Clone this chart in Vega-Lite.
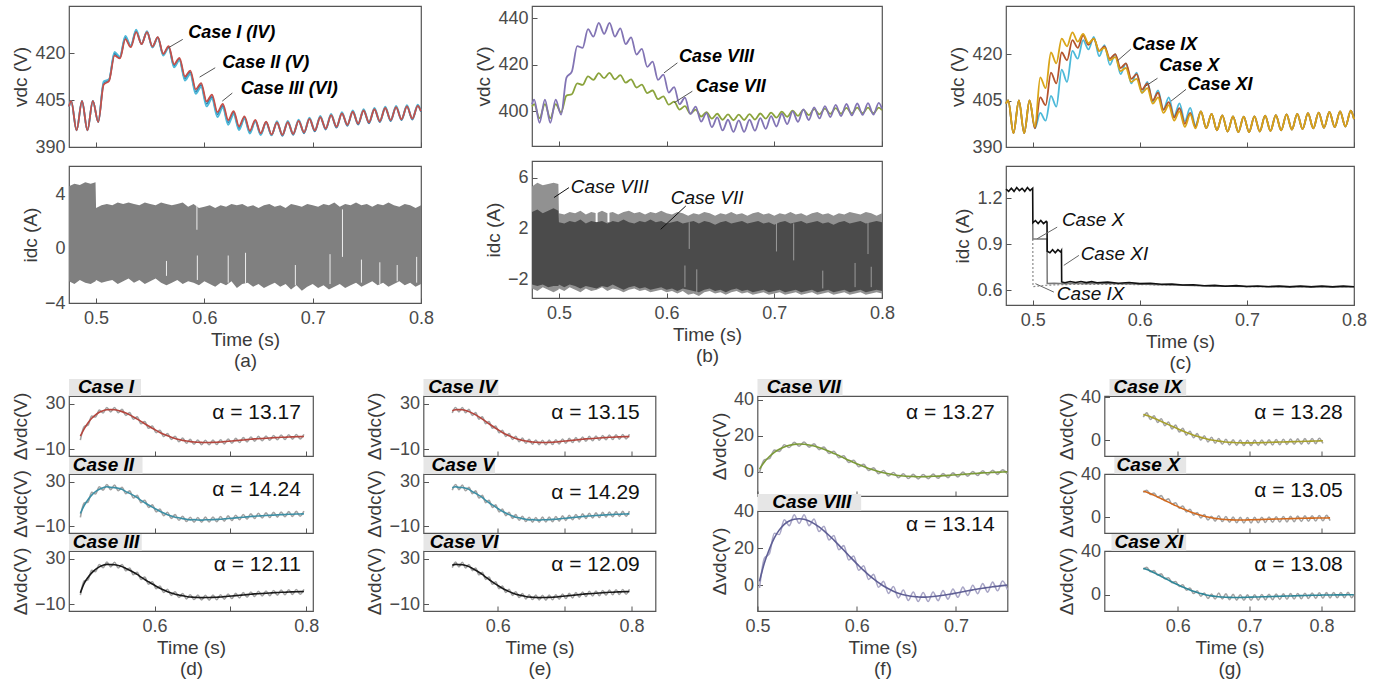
{
"$schema": "https://vega.github.io/schema/vega-lite/v6.json",
"padding": {"left": 10, "top": 5, "right": 0, "bottom": 0},
"background": "white",
"config": {
 "font": "Liberation Sans",
 "view": {"stroke": "#555555", "strokeWidth": 1.2},
 "mark": {"invalid": "filter"},
 "axis": {"domain": false, "grid": false, "ticks": true, "tickSize": -5, "tickColor": "#555555", "tickWidth": 1, "labelFont": "Liberation Sans", "labelFontSize": 18, "labelColor": "#4a4a4a", "labelFlush": false, "labelOverlap": false, "titleFont": "Liberation Sans", "titleFontSize": 19, "titleFontWeight": "normal", "titleColor": "#3a3a3a"},
 "axisY": {"titlePadding": 4, "labelPadding": 9},
 "axisX": {"titlePadding": 3, "titleLineHeight": 21, "labelPadding": 11},
 "text": {"font": "Liberation Sans"}
},
"datasets": {
"w": [
{"t":0.475,"a1":403,"a2":403,"a3":403,"b7":402,"b8":403,"c9":404,"c10":404,"c11":404},
{"t":0.477,"a1":404.8,"a2":404.8,"a3":404.8,"b7":403,"b8":405,"c9":405,"c10":405,"c11":405},
{"t":0.482,"a1":395.3,"a2":395.3,"a3":395.3,"b7":397,"b8":395,"c9":394.5,"c10":394.5,"c11":394.5},
{"t":0.487,"a1":404.8,"a2":404.8,"a3":404.8,"b7":403,"b8":405,"c9":405,"c10":405,"c11":405},
{"t":0.492,"a1":395.3,"a2":395.3,"a3":395.3,"b7":397,"b8":395,"c9":394.5,"c10":394.5,"c11":394.5},
{"t":0.497,"a1":404.8,"a2":404.8,"a3":404.8,"b7":403,"b8":405,"c9":405,"c10":405,"c11":405},
{"t":0.502,"a1":398,"a2":398,"a3":398,"b7":399.5,"b8":398.5,"c9":396,"c10":396,"c11":396.5,"d1":-2,"d2":-2,"d3":-2,"f1":1.5,"f2":1.5,"f3":0,"d7":-0.5,"d8":-1.5,"f7":1.5,"f8":2},
{"t":0.507,"a1":410,"a2":411,"a3":410.5,"b7":406.7,"b8":414.5,"c9":401,"c10":406,"c11":412.5,"d1":10,"d2":11,"d3":10.5,"f1":8,"f2":8.7,"f3":8.4,"d7":6.7,"d8":14.5,"f7":5.5,"f8":12},
{"t":0.512,"a1":411.2,"a2":411.7,"a3":411.5,"b7":407.3,"b8":417,"c9":398.5,"c10":403.5,"c11":409,"d1":11.2,"d2":11.7,"d3":11.5,"f1":13.2,"f2":13.9,"f3":13.6,"d7":7.3,"d8":17,"f7":8.5,"f8":19.5},
{"t":0.517,"a1":419.3,"a2":420.5,"a3":419.9,"b7":412,"b8":428,"c9":406.5,"c10":414,"c11":420.5,"d1":19.3,"d2":20.5,"d3":19.9,"f1":17.3,"f2":18,"f3":17.7,"d7":12,"d8":28,"f7":10.8,"f8":25.5},
{"t":0.522,"a1":418.4,"a2":419,"a3":418.7,"b7":411.3,"b8":427.3,"c9":403,"c10":410.5,"c11":417,"d1":18.4,"d2":19,"d3":18.7,"f1":20.4,"f2":21.1,"f3":20.8,"d7":11.3,"d8":27.3,"f7":12.5,"f8":29.8},
{"t":0.527,"a1":424.6,"a2":425.6,"a3":425.1,"b7":415,"b8":435.3,"c9":415,"c10":420.5,"c11":425,"d1":24.6,"d2":25.6,"d3":25.1,"f1":22.6,"f2":23.3,"f3":23,"d7":15,"d8":35.3,"f7":13.8,"f8":32.8},
{"t":0.532,"a1":422,"a2":422.5,"a3":422.3,"b7":413.5,"b8":432.1,"c9":411,"c10":418,"c11":422.5,"d1":22,"d2":22.5,"d3":22.3,"f1":24,"f2":24.7,"f3":24.4,"d7":13.5,"d8":32.1,"f7":14.7,"f8":34.6},
{"t":0.537,"a1":426.8,"a2":427.6,"a3":427.2,"b7":416.4,"b8":438,"c9":421,"c10":424.5,"c11":427,"d1":26.8,"d2":27.6,"d3":27.2,"f1":24.8,"f2":25.5,"f3":25.2,"d7":16.4,"d8":38,"f7":15.2,"f8":35.5},
{"t":0.542,"a1":423,"a2":423,"a3":423,"b7":414.2,"b8":433.3,"c9":418.5,"c10":422,"c11":424,"d1":23,"d2":23,"d3":23,"f1":25,"f2":25,"f3":25,"d7":14.2,"d8":33.3,"f7":15.4,"f8":35.8},
{"t":0.547,"a1":426.8,"a2":427.1,"a3":427,"b7":416.5,"b8":438,"c9":424.5,"c10":426,"c11":426.5,"d1":26.8,"d2":27.1,"d3":27,"f1":24.8,"f2":24.8,"f3":24.8,"d7":16.5,"d8":38,"f7":15.3,"f8":35.5},
{"t":0.552,"a1":422.2,"a2":421.9,"a3":422,"b7":413.7,"b8":432.1,"c9":421.5,"c10":423,"c11":423.5,"d1":22.2,"d2":21.9,"d3":22,"f1":24.2,"f2":24.2,"f3":24.2,"d7":13.7,"d8":32.1,"f7":14.9,"f8":34.6,"d9":21.5,"d10":23,"d11":23.5,"f9":24,"f10":24,"f11":24},
{"t":0.557,"a1":425.2,"a2":425,"a3":425.1,"b7":415.5,"b8":435.7,"c9":425.5,"c10":425,"c11":425,"d1":25.2,"d2":25,"d3":25.1,"f1":23.2,"f2":23.2,"f3":23.2,"d7":15.5,"d8":35.7,"f7":14.3,"f8":33.2,"d9":25.5,"d10":25,"d11":25,"f9":23,"f10":23.2,"f11":23},
{"t":0.562,"a1":419.9,"a2":419.3,"a3":419.6,"b7":412.3,"b8":428.9,"c9":419.3,"c10":421,"c11":421,"d1":19.9,"d2":19.3,"d3":19.6,"f1":21.9,"f2":21.2,"f3":21.6,"d7":12.3,"d8":28.9,"f7":13.5,"f8":31.4,"d9":19.3,"d10":21,"d11":21,"f9":21.8,"f10":21.8,"f11":21.6},
{"t":0.567,"a1":422.3,"a2":421.8,"a3":422,"b7":413.7,"b8":431.8,"c9":422.9,"c10":422.5,"c11":422,"d1":22.3,"d2":21.8,"d3":22,"f1":20.3,"f2":19.6,"f3":20,"d7":13.7,"d8":31.8,"f7":12.5,"f8":29.3,"d9":22.9,"d10":22.5,"d11":22,"f9":20.4,"f10":20.3,"f11":20},
{"t":0.572,"a1":416.5,"a2":415.5,"a3":416,"b7":410.2,"b8":424.4,"c9":416.5,"c10":418.5,"c11":418,"d1":16.5,"d2":15.5,"d3":16,"f1":18.5,"f2":17.8,"f3":18.2,"d7":10.2,"d8":24.4,"f7":11.4,"f8":26.9,"d9":16.5,"d10":18.5,"d11":18,"f9":19,"f10":18.8,"f11":18.4},
{"t":0.577,"a1":418.6,"a2":417.8,"a3":418.2,"b7":411.4,"b8":426.8,"c9":420,"c10":420,"c11":419,"d1":18.6,"d2":17.8,"d3":18.2,"f1":16.6,"f2":15.9,"f3":16.3,"d7":11.4,"d8":26.8,"f7":10.2,"f8":24.3,"d9":20,"d10":20,"d11":19,"f9":17.5,"f10":17.2,"f11":16.7},
{"t":0.582,"a1":412.6,"a2":411.3,"a3":411.9,"b7":407.8,"b8":419.1,"c9":413.5,"c10":415.5,"c11":414.5,"d1":12.6,"d2":11.3,"d3":11.9,"f1":14.6,"f2":13.3,"f3":13.9,"d7":7.8,"d8":19.1,"f7":9,"f8":21.6,"d9":13.5,"d10":15.5,"d11":14.5,"f9":16,"f10":15.6,"f11":15},
{"t":0.587,"a1":414.5,"a2":413.4,"a3":413.9,"b7":408.9,"b8":421.3,"c9":417,"c10":417,"c11":415.5,"d1":14.5,"d2":13.4,"d3":13.9,"f1":12.5,"f2":11.2,"f3":11.8,"d7":8.9,"d8":21.3,"f7":7.7,"f8":18.8,"d9":17,"d10":17,"d11":15.5,"f9":14.5,"f10":14,"f11":13.3},
{"t":0.592,"a1":408.5,"a2":407,"a3":407.7,"b7":405.2,"b8":413.5,"c9":410.5,"c10":412,"c11":411,"d1":8.5,"d2":7,"d3":7.7,"f1":10.5,"f2":9.2,"f3":9.8,"d7":5.2,"d8":13.5,"f7":6.4,"f8":16,"d9":10.5,"d10":12,"d11":11,"f9":13,"f10":12.4,"f11":11.6},
{"t":0.597,"a1":410.5,"a2":409.3,"a3":409.9,"b7":406.4,"b8":415.7,"c9":414,"c10":413.5,"c11":412,"d1":10.5,"d2":9.3,"d3":9.9,"f1":8.5,"f2":7.2,"f3":7.8,"d7":6.4,"d8":15.7,"f7":5.2,"f8":13.2,"d9":14,"d10":13.5,"d11":12,"f9":11.5,"f10":10.8,"f11":10},
{"t":0.602,"a1":404.6,"a2":403,"a3":403.8,"b7":402.8,"b8":408,"c9":407.5,"c10":408.5,"c11":407.5,"d1":4.6,"d2":3,"d3":3.8,"f1":6.6,"f2":5.3,"f3":5.9,"d7":2.8,"d8":8,"f7":4,"f8":10.5,"d9":7.5,"d10":8.5,"d11":7.5,"f9":10,"f10":9.3,"f11":8.5},
{"t":0.607,"a1":406.8,"a2":405.5,"a3":406.1,"b7":404.1,"b8":410.4,"c9":411,"c10":410.5,"c11":409,"d1":6.8,"d2":5.5,"d3":6.1,"f1":4.8,"f2":3.5,"f3":4.1,"d7":4.1,"d8":10.4,"f7":2.9,"f8":7.9,"d9":11,"d10":10.5,"d11":9,"f9":8.5,"f10":7.9,"f11":7},
{"t":0.612,"a1":401.2,"a2":399.6,"a3":400.4,"b7":400.7,"b8":403,"c9":404.6,"c10":405,"c11":404,"d1":1.2,"d2":-0.4,"d3":0.4,"f1":3.2,"f2":1.9,"f3":2.5,"d7":0.7,"d8":3,"f7":1.9,"f8":5.5,"d9":4.6,"d10":5,"d11":4,"f9":7.1,"f10":6.5,"f11":5.6},
{"t":0.617,"a1":403.8,"a2":402.6,"a3":403.2,"b7":402.2,"b8":405.8,"c9":408.3,"c10":407.5,"c11":406,"d1":3.8,"d2":2.6,"d3":3.2,"f1":1.8,"f2":0.5,"f3":1.1,"d7":2.2,"d8":5.8,"f7":1,"f8":3.3,"d9":8.3,"d10":7.5,"d11":6,"f9":5.8,"f10":5.2,"f11":4.3},
{"t":0.622,"a1":398.6,"a2":397.1,"a3":397.8,"b7":399,"b8":398.8,"c9":402.1,"c10":402,"c11":401,"d1":-1.4,"d2":-2.9,"d3":-2.2,"f1":0.6,"f2":-0.8,"f3":-0.1,"d7":-1,"d8":-1.2,"f7":0.2,"f8":1.3,"d9":2.1,"d10":2,"d11":1,"f9":4.6,"f10":4,"f11":3.1},
{"t":0.627,"a1":401.5,"a2":400.5,"a3":401,"b7":400.7,"b8":402,"c9":406,"c10":404.5,"c11":403.5,"d1":1.5,"d2":0.5,"d3":1,"f1":-0.5,"f2":-1.9,"f3":-1.2,"d7":0.7,"d8":2,"f7":-0.5,"f8":-0.5,"d9":6,"d10":4.5,"d11":3.5,"f9":3.5,"f10":2.9,"f11":2},
{"t":0.632,"a1":396.6,"a2":395.4,"a3":396,"b7":397.7,"b8":395.5,"c9":400,"c10":399.5,"c11":398.5,"d1":-3.4,"d2":-4.6,"d3":-4,"f1":-1.4,"f2":-2.3,"f3":-1.8,"d7":-2.3,"d8":-4.5,"f7":-1.1,"f8":-2,"d9":0,"d10":-0.5,"d11":-1.5,"f9":2.5,"f10":1.9,"f11":1},
{"t":0.637,"a1":399.8,"a2":399,"a3":399.4,"b7":399.6,"b8":399.2,"c9":404.1,"c10":402.5,"c11":401.5,"d1":-0.2,"d2":-1,"d3":-0.6,"f1":-2.2,"f2":-3.1,"f3":-2.6,"d7":-0.4,"d8":-0.8,"f7":-1.6,"f8":-3.3,"d9":4.1,"d10":2.5,"d11":1.5,"f9":1.6,"f10":1,"f11":0.2},
{"t":0.642,"a1":395.2,"a2":394.3,"a3":394.7,"b7":396.8,"b8":393.1,"c9":398.3,"c10":397.5,"c11":396.5,"d1":-4.8,"d2":-5.7,"d3":-5.3,"f1":-2.8,"f2":-3.7,"f3":-3.2,"d7":-3.2,"d8":-6.9,"f7":-2,"f8":-4.4,"d9":-1.7,"d10":-2.5,"d11":-3.5,"f9":0.8,"f10":0.2,"f11":-0.5},
{"t":0.647,"a1":398.7,"a2":398.2,"a3":398.4,"b7":398.9,"b8":397.3,"c9":402.6,"c10":401,"c11":400.5,"d1":-1.3,"d2":-1.8,"d3":-1.6,"f1":-3.3,"f2":-4.2,"f3":-3.7,"d7":-1.1,"d8":-2.7,"f7":-2.3,"f8":-5.2,"d9":2.6,"d10":1,"d11":0.5,"f9":0.1,"f10":-0.4,"f11":-1.1},
{"t":0.652,"a1":394.4,"a2":393.8,"a3":394.1,"b7":396.3,"b8":391.7,"c9":397,"c10":396.5,"c11":396,"d1":-5.6,"d2":-6.2,"d3":-5.9,"f1":-3.6,"f2":-4,"f3":-3.8,"d7":-3.7,"d8":-8.3,"f7":-2.5,"f8":-5.8,"d9":-3,"d10":-3.5,"d11":-4,"f9":-0.5,"f10":-1,"f11":-1.5},
{"t":0.657,"a1":398.1,"a2":397.9,"a3":398,"b7":398.6,"b8":396.3,"c9":401.5,"c10":401.5,"c11":401.5,"d1":-1.9,"d2":-2.1,"d3":-2,"f1":-3.9,"f2":-4.3,"f3":-4.1,"d7":-1.4,"d8":-3.7,"f7":-2.6,"f8":-6.2,"d9":1.5,"d10":1.5,"d11":1.5,"f9":-1,"f10":-1.4,"f11":-1.9},
{"t":0.662,"a1":394,"a2":393.7,"a3":393.8,"b7":396.1,"b8":391.1,"c9":396.1,"c10":396.1,"c11":396.1,"d1":-6,"d2":-6.3,"d3":-6.2,"f1":-4,"f2":-4.4,"f3":-4.2,"d7":-3.9,"d8":-8.9,"f7":-2.7,"f8":-6.4,"d9":-3.9,"d10":-3.9,"d11":-3.9,"f9":-1.4,"f10":-1.8,"f11":-2.2},
{"t":0.667,"a1":397.9,"a2":398.3,"a3":397.9,"b7":398.5,"b8":396,"c9":400.7,"c10":400.7,"c11":400.7,"d1":-2.1,"d2":-1.7,"d3":-2.1,"f1":-4.1,"f2":-4.1,"f3":-4.1,"d7":-1.5,"d8":-4,"f7":-2.7,"f8":-6.5,"d9":0.7,"d10":0.7,"d11":0.7,"f9":-1.8,"f10":-2.1,"f11":-2.4},
{"t":0.672,"a1":393.9,"a2":393.9,"a3":393.6,"b7":396.2,"b8":391.1,"c9":395.4,"c10":395.4,"c11":395.4,"d1":-6.1,"d2":-6.1,"d3":-6.4,"f1":-4.1,"f2":-4.1,"f3":-4.1,"d7":-3.8,"d8":-8.9,"f7":-2.6,"f8":-6.4,"d9":-4.6,"d10":-4.6,"d11":-4.6,"f9":-2.1,"f10":-2.3,"f11":-2.5},
{"t":0.677,"a1":398,"a2":398.4,"a3":398,"b7":398.7,"b8":396.3,"c9":400.2,"c10":400.2,"c11":400.2,"d1":-2,"d2":-1.6,"d3":-2,"f1":-4,"f2":-4,"f3":-4,"d7":-1.3,"d8":-3.7,"f7":-2.5,"f8":-6.2,"d9":0.2,"d10":0.2,"d11":0.2,"f9":-2.3,"f10":-2.4,"f11":-2.6},
{"t":0.682,"a1":394.2,"a2":394.2,"a3":393.9,"b7":396.4,"b8":391.6,"c9":395,"c10":395,"c11":395,"d1":-5.8,"d2":-5.8,"d3":-6.1,"f1":-3.8,"f2":-3.8,"f3":-3.8,"d7":-3.6,"d8":-8.4,"f7":-2.4,"f8":-5.9,"d9":-5,"d10":-5,"d11":-5,"f9":-2.5,"f10":-2.5,"f11":-2.6},
{"t":0.687,"a1":398.4,"a2":398.8,"a3":398.4,"b7":399,"b8":397,"c9":399.9,"c10":399.9,"c11":399.9,"d1":-1.6,"d2":-1.2,"d3":-1.6,"f1":-3.6,"f2":-3.6,"f3":-3.6,"d7":-1,"d8":-3,"f7":-2.2,"f8":-5.5,"d9":-0.1,"d10":-0.1,"d11":-0.1,"f9":-2.6,"f10":-2.5,"f11":-2.6},
{"t":0.692,"a1":394.7,"a2":394.7,"a3":394.4,"b7":396.8,"b8":392.4,"c9":394.8,"c10":394.8,"c11":394.8,"d1":-5.3,"d2":-5.3,"d3":-5.6,"f1":-3.3,"f2":-3.3,"f3":-3.3,"d7":-3.2,"d8":-7.6,"f7":-2,"f8":-5.1,"d9":-5.2,"d10":-5.2,"d11":-5.2,"f9":-2.7,"f10":-2.5,"f11":-2.5},
{"t":0.697,"a1":399,"a2":399.4,"a3":399,"b7":399.4,"b8":397.9,"c9":399.8,"c10":399.8,"c11":399.8,"d1":-1,"d2":-0.6,"d3":-1,"f1":-3,"f2":-3,"f3":-3,"d7":-0.6,"d8":-2.1,"f7":-1.8,"f8":-4.6,"d9":-0.2,"d10":-0.2,"d11":-0.2,"f9":-2.7,"f10":-2.4,"f11":-2.4},
{"t":0.702,"a1":395.3,"a2":395.3,"a3":395,"b7":397.2,"b8":393.4,"c9":394.8,"c10":394.8,"c11":394.8,"d1":-4.7,"d2":-4.7,"d3":-5,"f1":-2.7,"f2":-2.7,"f3":-2.7,"d7":-2.8,"d8":-6.6,"f7":-1.6,"f8":-4.1,"d9":-5.2,"d10":-5.2,"d11":-5.2,"f9":-2.7,"f10":-2.3,"f11":-2.3},
{"t":0.707,"a1":399.6,"a2":400,"a3":399.6,"b7":399.8,"b8":398.9,"c9":399.9,"c10":399.9,"c11":399.9,"d1":-0.4,"d2":0,"d3":-0.4,"f1":-2.4,"f2":-2.4,"f3":-2.4,"d7":-0.2,"d8":-1.1,"f7":-1.4,"f8":-3.6,"d9":-0.1,"d10":-0.1,"d11":-0.1,"f9":-2.6,"f10":-2.2,"f11":-2.2},
{"t":0.712,"a1":395.9,"a2":395.9,"a3":395.6,"b7":397.6,"b8":394.4,"c9":395,"c10":395,"c11":395,"d1":-4.1,"d2":-4.1,"d3":-4.4,"f1":-2.1,"f2":-2.1,"f3":-2.1,"d7":-2.4,"d8":-5.6,"f7":-1.2,"f8":-3.1,"d9":-5,"d10":-5,"d11":-5,"f9":-2.5,"f10":-2.1,"f11":-2.1},
{"t":0.717,"a1":400.2,"a2":400.6,"a3":400.2,"b7":400.2,"b8":399.9,"c9":400.1,"c10":400.1,"c11":400.1,"d1":0.2,"d2":0.6,"d3":0.2,"f1":-1.8,"f2":-1.8,"f3":-1.8,"d7":0.2,"d8":-0.1,"f7":-1,"f8":-2.6,"d9":0.1,"d10":0.1,"d11":0.1,"f9":-2.4,"f10":-2,"f11":-2},
{"t":0.722,"a1":396.5,"a2":396.5,"a3":396.2,"b7":398,"b8":395.4,"c9":395.2,"c10":395.2,"c11":395.2,"d1":-3.5,"d2":-3.5,"d3":-3.8,"f1":-1.5,"f2":-1.5,"f3":-1.5,"d7":-2,"d8":-4.6,"f7":-0.8,"f8":-2.1,"d9":-4.8,"d10":-4.8,"d11":-4.8,"f9":-2.3,"f10":-1.9,"f11":-1.9},
{"t":0.727,"a1":400.8,"a2":401.2,"a3":400.8,"b7":400.6,"b8":400.8,"c9":400.3,"c10":400.3,"c11":400.3,"d1":0.8,"d2":1.2,"d3":0.8,"f1":-1.2,"f2":-1.2,"f3":-1.2,"d7":0.6,"d8":0.8,"f7":-0.6,"f8":-1.7,"d9":0.3,"d10":0.3,"d11":0.3,"f9":-2.2,"f10":-1.8,"f11":-1.8},
{"t":0.732,"a1":397.1,"a2":397.1,"a3":396.8,"b7":398.3,"b8":396.2,"c9":395.4,"c10":395.4,"c11":395.4,"d1":-2.9,"d2":-2.9,"d3":-3.2,"f1":-0.9,"f2":-0.9,"f3":-0.9,"d7":-1.7,"d8":-3.8,"f7":-0.5,"f8":-1.3,"d9":-4.6,"d10":-4.6,"d11":-4.6,"f9":-2.1,"f10":-1.7,"f11":-1.7},
{"t":0.737,"a1":401.3,"a2":401.7,"a3":401.3,"b7":400.9,"b8":401.6,"c9":400.5,"c10":400.5,"c11":400.5,"d1":1.3,"d2":1.7,"d3":1.3,"f1":-0.7,"f2":-0.7,"f3":-0.7,"d7":0.9,"d8":1.6,"f7":-0.3,"f8":-0.9,"d9":0.5,"d10":0.5,"d11":0.5,"f9":-2,"f10":-1.6,"f11":-1.6},
{"t":0.742,"a1":397.5,"a2":397.5,"a3":397.2,"b7":398.6,"b8":396.9,"c9":395.6,"c10":395.6,"c11":395.6,"d1":-2.5,"d2":-2.5,"d3":-2.8,"f1":-0.5,"f2":-0.5,"f3":-0.5,"d7":-1.4,"d8":-3.1,"f7":-0.2,"f8":-0.6,"d9":-4.4,"d10":-4.4,"d11":-4.4,"f9":-1.9,"f10":-1.5,"f11":-1.5},
{"t":0.747,"a1":401.7,"a2":402.1,"a3":401.7,"b7":401.1,"b8":402.2,"c9":400.7,"c10":400.7,"c11":400.7,"d1":1.7,"d2":2.1,"d3":1.7,"f1":-0.3,"f2":-0.3,"f3":-0.3,"d7":1.1,"d8":2.2,"f7":-0.1,"f8":-0.3,"d9":0.7,"d10":0.7,"d11":0.7,"f9":-1.8,"f10":-1.4,"f11":-1.4},
{"t":0.752,"a1":397.9,"a2":397.9,"a3":397.6,"b7":398.8,"b8":397.5,"c9":395.8,"c10":395.8,"c11":395.8,"d1":-2.1,"d2":-2.1,"d3":-2.4,"f1":-0.1,"f2":-0.1,"f3":-0.1,"d7":-1.2,"d8":-2.5,"f7":0,"f8":0,"d9":-4.2,"d10":-4.2,"d11":-4.2,"f9":-1.7,"f10":-1.3,"f11":-1.3},
{"t":0.757,"a1":402.1,"a2":402.5,"a3":402.1,"b7":401.3,"b8":402.7,"c9":400.9,"c10":400.9,"c11":400.9,"d1":2.1,"d2":2.5,"d3":2.1,"f1":0.1,"f2":0.1,"f3":0.1,"d9":0.9,"d10":0.9,"d11":0.9,"f9":-1.6,"f10":-1.2,"f11":-1.2},
{"t":0.762,"a1":398.3,"a2":398.3,"a3":398,"b7":398.9,"b8":397.9,"c9":396,"c10":396,"c11":396,"d1":-1.7,"d2":-1.7,"d3":-2,"f1":0.3,"f2":0.3,"f3":0.3,"d9":-4,"d10":-4,"d11":-4,"f9":-1.5,"f10":-1.1,"f11":-1.1},
{"t":0.767,"a1":402.5,"a2":402.9,"a3":402.5,"b7":401.4,"b8":403.1,"c9":401.1,"c10":401.1,"c11":401.1,"d1":2.5,"d2":2.9,"d3":2.5,"f1":0.5,"f2":0.5,"f3":0.5,"d9":1.1,"d10":1.1,"d11":1.1,"f9":-1.4,"f10":-1,"f11":-1},
{"t":0.772,"a1":398.6,"a2":398.6,"a3":398.3,"b7":399,"b8":398.2,"c9":396.2,"c10":396.2,"c11":396.2,"d1":-1.4,"d2":-1.4,"d3":-1.7,"f1":0.6,"f2":0.6,"f3":0.6,"d9":-3.8,"d10":-3.8,"d11":-3.8,"f9":-1.3,"f10":-0.9,"f11":-0.9},
{"t":0.777,"a1":402.8,"a2":403.2,"a3":402.8,"b7":401.5,"b8":403.3,"c9":401.3,"c10":401.3,"c11":401.3,"d1":2.8,"d2":3.2,"d3":2.8,"f1":0.8,"f2":0.8,"f3":0.8,"d9":1.3,"d10":1.3,"d11":1.3,"f9":-1.2,"f10":-0.9,"f11":-0.8},
{"t":0.782,"a1":398.9,"a2":398.9,"a3":398.6,"b7":399.1,"b8":398.4,"c9":396.4,"c10":396.4,"c11":396.4,"d1":-1.1,"d2":-1.1,"d3":-1.4,"f1":0.9,"f2":0.9,"f3":0.9,"d9":-3.6,"d10":-3.6,"d11":-3.6,"f9":-1.1,"f10":-0.8,"f11":-0.7},
{"t":0.787,"a1":403,"a2":403.4,"a3":403,"b7":401.5,"b8":403.5,"c9":401.5,"c10":401.5,"c11":401.5,"d1":3,"d2":3.4,"d3":3,"f1":1,"f2":1,"f3":1,"d9":1.5,"d10":1.5,"d11":1.5,"f9":-1,"f10":-0.8,"f11":-0.6},
{"t":0.792,"a1":399.1,"a2":399.1,"a3":398.8,"b7":399.1,"b8":398.5,"c9":396.6,"c10":396.6,"c11":396.6,"d1":-0.9,"d2":-0.9,"d3":-1.2,"f1":1.1,"f2":1.1,"f3":1.1,"d9":-3.4,"d10":-3.4,"d11":-3.4,"f9":-0.9,"f10":-0.7,"f11":-0.5},
{"t":0.797,"a1":403.2,"a2":403.6,"a3":403.2,"b7":401.5,"b8":403.6,"c9":401.7,"c10":401.7,"c11":401.7,"d1":3.2,"d2":3.6,"d3":3.2,"f1":1.2,"f2":1.2,"f3":1.2,"d9":1.7,"d10":1.7,"d11":1.7,"f9":-0.8,"f10":-0.7,"f11":-0.5},
{"t":0.8,"a1":401.5,"a2":401.7,"a3":401.3,"b7":400.5,"b8":401,"c9":399,"c10":399,"c11":399},
{"t":0.802,"d9":-3.2,"d10":-3.2,"d11":-3.2,"f9":-0.7,"f10":-0.6,"f11":-0.4},
{"t":0.807,"d10":1.8,"d11":1.8,"f10":-0.6,"f11":-0.4},
{"t":0.812,"d10":-3,"d11":-3,"f10":-0.5,"f11":-0.3},
{"t":0.817,"d11":2,"f11":-0.3},
{"t":0.822,"d11":-2.9,"f11":-0.2},
{"t":0.827,"d11":2,"f11":-0.2},
{"t":0.832,"d11":-2.8,"f11":-0.2},
{"t":0.837,"d11":2.1,"f11":-0.1},
{"t":0.842,"d11":-2.8,"f11":-0.1},
{"t":0.845,"d11":0,"f11":-0.1}
],
"i": [
{"t":0.475,"ua":4.6,"la":-2.4,"u8":5.3,"l8":-2.7,"u7":3.3,"l7":-2.4},
{"t":0.48,"ua":4.8,"la":-2.6,"u8":5.6,"l8":-2.9,"u7":3.5,"l7":-2.5},
{"t":0.485,"ua":4.7,"la":-2.3,"u8":5.4,"l8":-2.6,"u7":3.2,"l7":-2.4},
{"t":0.49,"ua":4.9,"la":-2.5,"u8":5.5,"l8":-2.8,"u7":3.4,"l7":-2.6},
{"t":0.495,"ua":4.8,"la":-2.6,"u8":5.6,"l8":-3.0,"u7":3.6,"l7":-2.5},
{"t":0.4995,"ua":4.9,"la":-2.4,"u8":5.5,"l8":-2.8,"u7":3.4,"l7":-2.5},
{"t":0.5,"ua":3.0,"la":-2.3,"u8":3.2,"l8":-2.7,"u7":2.5,"l7":-2.4},
{"t":0.505,"ua":3.2,"la":-2.5,"u8":3.1,"l8":-2.9,"u7":2.4,"l7":-2.6},
{"t":0.51,"ua":3.3,"la":-2.4,"u8":3.3,"l8":-2.6,"u7":2.6,"l7":-2.4},
{"t":0.515,"ua":3.2,"la":-2.3,"u8":3.2,"l8":-2.8,"u7":2.5,"l7":-2.5},
{"t":0.52,"ua":3.4,"la":-2.6,"u8":3.4,"l8":-3.0,"u7":2.7,"l7":-2.7},
{"t":0.525,"ua":3.3,"la":-2.4,"u8":3.1,"l8":-2.7,"u7":2.4,"l7":-2.5},
{"t":0.53,"ua":3.4,"la":-2.2,"u8":3.3,"l8":-2.9,"u7":2.6,"l7":-2.6},
{"t":0.535,"ua":3.3,"la":-2.5,"u8":3.2,"l8":-2.8,"u7":2.5,"l7":-2.7},
{"t":0.54,"ua":3.2,"la":-2.3,"u8":3.4,"l8":-2.6,"u7":2.6,"l7":-2.5},
{"t":0.545,"ua":3.4,"la":-2.6,"u8":3.2,"l8":-2.9,"u7":2.4,"l7":-2.6},
{"t":0.55,"ua":3.3,"la":-2.4,"u8":3.3,"l8":-2.7,"u7":2.6,"l7":-2.4},
{"t":0.555,"ua":3.2,"la":-2.2,"u8":3.1,"l8":-2.8,"u7":2.5,"l7":-2.6},
{"t":0.56,"ua":3.4,"la":-2.5,"u8":3.3,"l8":-3.0,"u7":2.7,"l7":-2.8},
{"t":0.565,"ua":3.3,"la":-2.7,"u8":3.4,"l8":-2.8,"u7":2.5,"l7":-2.6},
{"t":0.57,"ua":3.2,"la":-2.5,"u8":3.2,"l8":-2.7,"u7":2.4,"l7":-2.5},
{"t":0.575,"ua":3.3,"la":-2.3,"u8":3.3,"l8":-2.9,"u7":2.6,"l7":-2.7},
{"t":0.58,"ua":3.4,"la":-2.6,"u8":3.1,"l8":-2.8,"u7":2.5,"l7":-2.6},
{"t":0.585,"ua":3.1,"la":-2.4,"u8":3.3,"l8":-3.0,"u7":2.7,"l7":-2.8},
{"t":0.59,"ua":3.3,"la":-2.5,"u8":3.2,"l8":-2.9,"u7":2.5,"l7":-2.7},
{"t":0.595,"ua":3.0,"la":-2.7,"u8":3.4,"l8":-2.8,"u7":2.6,"l7":-2.6},
{"t":0.6,"ua":3.1,"la":-2.4,"u8":3.2,"l8":-3.0,"u7":2.4,"l7":-2.8},
{"t":0.605,"ua":3.2,"la":-2.6,"u8":3.1,"l8":-2.9,"u7":2.5,"l7":-2.7},
{"t":0.61,"ua":3.0,"la":-2.8,"u8":3.3,"l8":-3.1,"u7":2.6,"l7":-2.9},
{"t":0.615,"ua":3.2,"la":-2.5,"u8":3.2,"l8":-2.9,"u7":2.4,"l7":-2.7},
{"t":0.62,"ua":3.1,"la":-2.7,"u8":3.0,"l8":-3.2,"u7":2.5,"l7":-2.8},
{"t":0.625,"ua":3.3,"la":-2.4,"u8":3.2,"l8":-3.1,"u7":2.6,"l7":-2.9},
{"t":0.63,"ua":3.2,"la":-2.9,"u8":3.1,"l8":-3.3,"u7":2.4,"l7":-3.0},
{"t":0.635,"ua":3.3,"la":-2.6,"u8":3.3,"l8":-3.0,"u7":2.6,"l7":-2.8},
{"t":0.64,"ua":3.1,"la":-2.5,"u8":3.2,"l8":-2.9,"u7":2.5,"l7":-2.7},
{"t":0.645,"ua":3.2,"la":-2.8,"u8":3.0,"l8":-3.1,"u7":2.3,"l7":-2.9},
{"t":0.65,"ua":3.0,"la":-2.6,"u8":3.2,"l8":-3.0,"u7":2.5,"l7":-2.8},
{"t":0.655,"ua":3.2,"la":-2.9,"u8":3.1,"l8":-3.2,"u7":2.6,"l7":-3.0},
{"t":0.66,"ua":3.3,"la":-2.7,"u8":3.3,"l8":-3.0,"u7":2.4,"l7":-2.8},
{"t":0.665,"ua":3.1,"la":-2.5,"u8":3.1,"l8":-2.9,"u7":2.5,"l7":-2.7},
{"t":0.67,"ua":3.2,"la":-2.8,"u8":3.2,"l8":-3.1,"u7":2.6,"l7":-2.9},
{"t":0.675,"ua":3.0,"la":-2.6,"u8":3.0,"l8":-3.0,"u7":2.4,"l7":-2.8},
{"t":0.68,"ua":3.3,"la":-3.0,"u8":3.2,"l8":-3.2,"u7":2.5,"l7":-3.0},
{"t":0.685,"ua":3.2,"la":-2.7,"u8":3.3,"l8":-3.1,"u7":2.6,"l7":-2.9},
{"t":0.69,"ua":3.1,"la":-3.1,"u8":3.1,"l8":-3.0,"u7":2.4,"l7":-2.8},
{"t":0.695,"ua":3.3,"la":-2.8,"u8":3.2,"l8":-3.2,"u7":2.5,"l7":-3.0},
{"t":0.7,"ua":3.2,"la":-2.6,"u8":3.0,"l8":-3.1,"u7":2.3,"l7":-2.9},
{"t":0.705,"ua":3.1,"la":-2.9,"u8":3.2,"l8":-3.0,"u7":2.5,"l7":-2.8},
{"t":0.71,"ua":3.3,"la":-2.7,"u8":3.1,"l8":-3.2,"u7":2.6,"l7":-3.0},
{"t":0.715,"ua":3.2,"la":-3.0,"u8":3.3,"l8":-3.1,"u7":2.4,"l7":-2.9},
{"t":0.72,"ua":3.4,"la":-2.8,"u8":3.1,"l8":-3.0,"u7":2.5,"l7":-2.8},
{"t":0.725,"ua":3.1,"la":-2.6,"u8":3.2,"l8":-3.2,"u7":2.6,"l7":-3.0},
{"t":0.73,"ua":3.3,"la":-2.9,"u8":3.0,"l8":-3.1,"u7":2.4,"l7":-2.9},
{"t":0.735,"ua":3.2,"la":-2.7,"u8":3.2,"l8":-3.0,"u7":2.5,"l7":-2.8},
{"t":0.74,"ua":3.4,"la":-2.5,"u8":3.3,"l8":-3.2,"u7":2.6,"l7":-3.0},
{"t":0.745,"ua":3.2,"la":-2.8,"u8":3.1,"l8":-3.1,"u7":2.4,"l7":-2.9},
{"t":0.75,"ua":3.3,"la":-2.6,"u8":3.2,"l8":-3.0,"u7":2.5,"l7":-2.8},
{"t":0.755,"ua":3.1,"la":-2.4,"u8":3.0,"l8":-3.2,"u7":2.3,"l7":-3.0},
{"t":0.76,"ua":3.3,"la":-2.7,"u8":3.2,"l8":-3.1,"u7":2.5,"l7":-2.9},
{"t":0.765,"ua":3.2,"la":-2.5,"u8":3.1,"l8":-3.0,"u7":2.6,"l7":-2.8},
{"t":0.77,"ua":3.4,"la":-2.8,"u8":3.3,"l8":-3.2,"u7":2.4,"l7":-3.0},
{"t":0.775,"ua":3.2,"la":-2.6,"u8":3.2,"l8":-3.1,"u7":2.5,"l7":-2.9},
{"t":0.78,"ua":3.1,"la":-2.4,"u8":3.1,"l8":-3.0,"u7":2.6,"l7":-2.8},
{"t":0.785,"ua":3.3,"la":-2.7,"u8":3.3,"l8":-3.2,"u7":2.4,"l7":-3.0},
{"t":0.79,"ua":3.2,"la":-2.5,"u8":3.2,"l8":-3.1,"u7":2.5,"l7":-2.9},
{"t":0.795,"ua":3.0,"la":-2.8,"u8":3.0,"l8":-3.0,"u7":2.6,"l7":-2.8},
{"t":0.8,"ua":3.2,"la":-2.6,"u8":3.2,"l8":-3.1,"u7":2.5,"l7":-2.9}
],
"sp": [
{"p":"a","t":0.565,"lo":-2.0,"hi":-0.9},{"p":"a","t":0.5931,"lo":1.4,"hi":3.2},{"p":"a","t":0.5935,"lo":-2.3,"hi":-0.5},{"p":"a","t":0.622,"lo":-2.5,"hi":-0.5},{"p":"a","t":0.638,"lo":-2.6,"hi":-0.3},{"p":"a","t":0.684,"lo":-2.7,"hi":-1.2},{"p":"a","t":0.716,"lo":-2.6,"hi":-0.4},{"p":"a","t":0.7275,"lo":-0.6,"hi":2.9},{"p":"a","t":0.745,"lo":-2.5,"hi":-0.8},{"p":"a","t":0.762,"lo":-2.6,"hi":-1},{"p":"a","t":0.778,"lo":-2.4,"hi":-1.2},{"p":"a","t":0.796,"lo":-2.5,"hi":-0.6},
{"p":"bw","t":0.535,"lo":2.5,"hi":3.5},{"p":"bw","t":0.546,"lo":2.5,"hi":3.5},
{"p":"bg","t":0.617,"lo":-2.6,"hi":-0.9},{"p":"bg","t":0.621,"lo":0.4,"hi":2.5},{"p":"bg","t":0.628,"lo":-3.1,"hi":-1.2},{"p":"bg","t":0.702,"lo":0.2,"hi":2.5},{"p":"bg","t":0.718,"lo":-0.5,"hi":2.4},{"p":"bg","t":0.745,"lo":-2.7,"hi":-1.3},{"p":"bg","t":0.775,"lo":-2.6,"hi":-0.7},{"p":"bg","t":0.787,"lo":0,"hi":2.5},{"p":"bg","t":0.79,"lo":-2.6,"hi":-1}
],
"ic": [
{"s":"XI","t":0.475,"v":1.26},{"s":"XI","t":0.4775,"v":1.245},{"s":"XI","t":0.48,"v":1.265},{"s":"XI","t":0.4825,"v":1.245},{"s":"XI","t":0.485,"v":1.27},{"s":"XI","t":0.4875,"v":1.25},{"s":"XI","t":0.49,"v":1.265},{"s":"XI","t":0.4925,"v":1.245},{"s":"XI","t":0.495,"v":1.27},{"s":"XI","t":0.4975,"v":1.25},{"s":"XI","t":0.4999,"v":1.265},
{"s":"XI","t":0.5001,"v":1.04},{"s":"XI","t":0.5025,"v":1.055},{"s":"XI","t":0.505,"v":1.035},{"s":"XI","t":0.5075,"v":1.055},{"s":"XI","t":0.51,"v":1.035},{"s":"XI","t":0.5125,"v":1.05},{"s":"XI","t":0.5133,"v":1.045},
{"s":"XI","t":0.5135,"v":0.855},{"s":"XI","t":0.516,"v":0.845},{"s":"XI","t":0.5185,"v":0.865},{"s":"XI","t":0.521,"v":0.845},{"s":"XI","t":0.5235,"v":0.865},{"s":"XI","t":0.526,"v":0.85},{"s":"XI","t":0.5268,"v":0.86},
{"s":"XI","t":0.527,"v":0.655},{"s":"XI","t":0.53,"v":0.65},{"s":"XI","t":0.535,"v":0.658},{"s":"XI","t":0.54,"v":0.652},{"s":"XI","t":0.545,"v":0.658},{"s":"XI","t":0.55,"v":0.651},{"s":"XI","t":0.555,"v":0.657},{"s":"XI","t":0.56,"v":0.65},{"s":"XI","t":0.57,"v":0.654},{"s":"XI","t":0.58,"v":0.647},{"s":"XI","t":0.59,"v":0.651},{"s":"XI","t":0.6,"v":0.644},{"s":"XI","t":0.61,"v":0.647},{"s":"XI","t":0.62,"v":0.64},{"s":"XI","t":0.63,"v":0.642},{"s":"XI","t":0.64,"v":0.635},{"s":"XI","t":0.65,"v":0.637},{"s":"XI","t":0.66,"v":0.63},{"s":"XI","t":0.67,"v":0.633},{"s":"XI","t":0.68,"v":0.627},{"s":"XI","t":0.69,"v":0.631},{"s":"XI","t":0.7,"v":0.625},{"s":"XI","t":0.71,"v":0.629},{"s":"XI","t":0.72,"v":0.624},{"s":"XI","t":0.73,"v":0.628},{"s":"XI","t":0.74,"v":0.623},{"s":"XI","t":0.75,"v":0.628},{"s":"XI","t":0.76,"v":0.623},{"s":"XI","t":0.77,"v":0.628},{"s":"XI","t":0.78,"v":0.623},{"s":"XI","t":0.79,"v":0.628},{"s":"XI","t":0.8,"v":0.624},
{"s":"X","t":0.5,"v":1.04},{"s":"X","t":0.5001,"v":0.935},{"s":"X","t":0.505,"v":0.935},{"s":"X","t":0.5133,"v":0.935},{"s":"X","t":0.5135,"v":0.645},{"s":"X","t":0.52,"v":0.647},{"s":"X","t":0.53,"v":0.644},{"s":"X","t":0.54,"v":0.647},{"s":"X","t":0.55,"v":0.644},{"s":"X","t":0.56,"v":0.646},{"s":"X","t":0.58,"v":0.643},{"s":"X","t":0.6,"v":0.641},{"s":"X","t":0.62,"v":0.637},{"s":"X","t":0.65,"v":0.632},{"s":"X","t":0.7,"v":0.625},{"s":"X","t":0.8,"v":0.624},
{"s":"IX","t":0.5,"v":0.935},{"s":"IX","t":0.5002,"v":0.625},{"s":"IX","t":0.505,"v":0.628},{"s":"IX","t":0.51,"v":0.632},{"s":"IX","t":0.52,"v":0.636},{"s":"IX","t":0.53,"v":0.638},{"s":"IX","t":0.55,"v":0.64},{"s":"IX","t":0.6,"v":0.638},{"s":"IX","t":0.65,"v":0.632},{"s":"IX","t":0.7,"v":0.625},{"s":"IX","t":0.8,"v":0.624}
]
},
"vconcat": [
{"hconcat": [
 {"vconcat": [
  {"width":352,"height":141,"layer":[
   {"data":{"name":"w"},"mark":{"type":"line","color":"#2e7fae","strokeWidth":1.8,"interpolate":"monotone"},"encoding":{"x":{"field":"t","type":"quantitative","scale":{"domain":[0.475,0.8],"nice":false},"axis":{"values":[0.5,0.6,0.7,0.8],"labels":false,"title":null}},"y":{"field":"a3","type":"quantitative","scale":{"domain":[390,435.2],"nice":false,"zero":false},"axis":{"values":[390,405,420],"title":"vdc (V)"}}}},
   {"data":{"name":"w"},"mark":{"type":"line","color":"#4db8d8","strokeWidth":1.8,"interpolate":"monotone"},"encoding":{"x":{"field":"t","type":"quantitative"},"y":{"field":"a2","type":"quantitative"}}},
   {"data":{"name":"w"},"mark":{"type":"line","color":"#c4504a","strokeWidth":1.8,"interpolate":"monotone"},"encoding":{"x":{"field":"t","type":"quantitative"},"y":{"field":"a1","type":"quantitative"}}},
   {"data":{"values":[{"t1":0.58,"v1":424.5,"t2":0.5667,"v2":421.8},{"t1":0.61,"v1":415.4,"t2":0.5956,"v2":412.4},{"t1":0.6258,"v1":407.3,"t2":0.6165,"v2":404.7}]},"mark":{"type":"rule","color":"#555555","strokeWidth":1},"encoding":{"x":{"field":"t1","type":"quantitative"},"x2":{"field":"t2"},"y":{"field":"v1","type":"quantitative"},"y2":{"field":"v2"}}},
   {"data":{"values":[{"t":0.585,"v":426.4,"s":"Case I (IV)"},{"t":0.6165,"v":417,"s":"Case II (V)"},{"t":0.6336,"v":408.7,"s":"Case III (VI)"}]},"mark":{"type":"text","align":"left","baseline":"middle","fontSize":18,"fontWeight":"bold","fontStyle":"italic","color":"#000000"},"encoding":{"x":{"field":"t","type":"quantitative"},"y":{"field":"v","type":"quantitative"},"text":{"field":"s"}}}
  ]},
  {"width":352,"height":137,"layer":[
   {"data":{"name":"i"},"mark":{"type":"area","color":"#808080"},"encoding":{"x":{"field":"t","type":"quantitative","scale":{"domain":[0.475,0.8],"nice":false},"axis":{"values":[0.5,0.6,0.7,0.8],"format":".1f","title":["Time (s)","(a)"]}},"y":{"field":"ua","type":"quantitative","scale":{"domain":[-4,6.1],"nice":false,"zero":false},"axis":{"values":[-4,0,4],"title":"idc (A)"}},"y2":{"field":"la"}}},
   {"data":{"name":"sp"},"transform":[{"filter":{"field":"p","equal":"a"}}],"mark":{"type":"rule","color":"#ededed","strokeWidth":1},"encoding":{"x":{"field":"t","type":"quantitative"},"y":{"field":"lo","type":"quantitative"},"y2":{"field":"hi"}}}
  ]}
 ], "spacing": 19, "bounds": "flush"},
 {"hconcat": [
  {"vconcat": [
   {"width":350,"height":140,"layer":[
    {"data":{"name":"w"},"mark":{"type":"line","color":"#8aa33c","strokeWidth":1.8,"interpolate":"monotone"},"encoding":{"x":{"field":"t","type":"quantitative","scale":{"domain":[0.475,0.8],"nice":false},"axis":{"values":[0.5,0.6,0.7,0.8],"labels":false,"title":null}},"y":{"field":"b7","type":"quantitative","scale":{"domain":[385,445.3],"nice":false,"zero":false},"axis":{"values":[400,420,440],"title":"vdc (V)"}}}},
    {"data":{"name":"w"},"mark":{"type":"line","color":"#8274b4","strokeWidth":1.8,"interpolate":"monotone"},"encoding":{"x":{"field":"t","type":"quantitative"},"y":{"field":"b8","type":"quantitative"}}},
    {"data":{"values":[{"t1":0.61,"v1":420.8,"t2":0.5976,"v2":416.5},{"t1":0.6239,"v1":408.6,"t2":0.6069,"v2":403.6}]},"mark":{"type":"rule","color":"#555555","strokeWidth":1},"encoding":{"x":{"field":"t1","type":"quantitative"},"x2":{"field":"t2"},"y":{"field":"v1","type":"quantitative"},"y2":{"field":"v2"}}},
    {"data":{"values":[{"t":0.6115,"v":423.4,"s":"Case VIII"},{"t":0.627,"v":410.4,"s":"Case VII"}]},"mark":{"type":"text","align":"left","baseline":"middle","fontSize":18,"fontWeight":"bold","fontStyle":"italic","color":"#000000"},"encoding":{"x":{"field":"t","type":"quantitative"},"y":{"field":"v","type":"quantitative"},"text":{"field":"s"}}}
   ]},
   {"width":350,"height":137,"layer":[
    {"data":{"name":"i"},"mark":{"type":"area","color":"#919191"},"encoding":{"x":{"field":"t","type":"quantitative","scale":{"domain":[0.475,0.8],"nice":false},"axis":{"values":[0.5,0.6,0.7,0.8],"format":".1f","title":["Time (s)","(b)"]}},"y":{"field":"u8","type":"quantitative","scale":{"domain":[-3.45,7.3],"nice":false,"zero":false},"axis":{"values":[-2,0,2,4,6],"labelExpr":"datum.value == 0 || datum.value == 4 ? '' : datum.label","title":"idc (A)"}},"y2":{"field":"l8"}}},
    {"data":{"name":"sp"},"transform":[{"filter":{"field":"p","equal":"bw"}}],"mark":{"type":"rule","color":"#ffffff","strokeWidth":2},"encoding":{"x":{"field":"t","type":"quantitative"},"y":{"field":"lo","type":"quantitative"},"y2":{"field":"hi"}}},
    {"data":{"name":"i"},"mark":{"type":"area","color":"#4b4b4b"},"encoding":{"x":{"field":"t","type":"quantitative"},"y":{"field":"u7","type":"quantitative"},"y2":{"field":"l7"}}},
    {"data":{"name":"sp"},"transform":[{"filter":{"field":"p","equal":"bg"}}],"mark":{"type":"rule","color":"#9a9a9a","strokeWidth":1},"encoding":{"x":{"field":"t","type":"quantitative"},"y":{"field":"lo","type":"quantitative"},"y2":{"field":"hi"}}},
    {"data":{"values":[{"t1":0.5093,"v1":5.21,"t2":0.4954,"v2":4.43},{"t1":0.6178,"v1":3.77,"t2":0.5945,"v2":1.94}]},"mark":{"type":"rule","color":"#111111","strokeWidth":1},"encoding":{"x":{"field":"t1","type":"quantitative"},"x2":{"field":"t2"},"y":{"field":"v1","type":"quantitative"},"y2":{"field":"v2"}}},
    {"data":{"values":[{"t":0.5109,"v":5.28,"s":"Case VIII"},{"t":0.6038,"v":4.36,"s":"Case VII"}]},"mark":{"type":"text","align":"left","baseline":"middle","fontSize":19,"fontStyle":"italic","color":"#111111"},"encoding":{"x":{"field":"t","type":"quantitative"},"y":{"field":"v","type":"quantitative"},"text":{"field":"s"}}}
   ]}
  ], "spacing": 15, "bounds": "flush"},
  {"vconcat": [
   {"width":348,"height":141,"layer":[
    {"data":{"name":"w"},"mark":{"type":"line","color":"#4cb9d9","strokeWidth":1.8,"interpolate":"monotone"},"encoding":{"x":{"field":"t","type":"quantitative","scale":{"domain":[0.475,0.8],"nice":false},"axis":{"values":[0.5,0.6,0.7,0.8],"labels":false,"title":null}},"y":{"field":"c9","type":"quantitative","scale":{"domain":[390,435.5],"nice":false,"zero":false},"axis":{"values":[390,405,420],"title":"vdc (V)"}}}},
    {"data":{"name":"w"},"mark":{"type":"line","color":"#b4542c","strokeWidth":1.8,"interpolate":"monotone"},"encoding":{"x":{"field":"t","type":"quantitative"},"y":{"field":"c10","type":"quantitative"}}},
    {"data":{"name":"w"},"mark":{"type":"line","color":"#d9a418","strokeWidth":1.8,"interpolate":"monotone"},"encoding":{"x":{"field":"t","type":"quantitative"},"y":{"field":"c11","type":"quantitative"}}},
    {"data":{"values":[{"t1":0.5916,"v1":421.6,"t2":0.579,"v2":417.8},{"t1":0.6165,"v1":412.2,"t2":0.6056,"v2":409.7},{"t1":0.6431,"v1":408.6,"t2":0.6291,"v2":404.8}]},"mark":{"type":"rule","color":"#555555","strokeWidth":1},"encoding":{"x":{"field":"t1","type":"quantitative"},"x2":{"field":"t2"},"y":{"field":"v1","type":"quantitative"},"y2":{"field":"v2"}}},
    {"data":{"values":[{"t":0.5928,"v":423,"s":"Case IX"},{"t":0.6181,"v":416.2,"s":"Case X"},{"t":0.6444,"v":409.9,"s":"Case XI"}]},"mark":{"type":"text","align":"left","baseline":"middle","fontSize":18,"fontWeight":"bold","fontStyle":"italic","color":"#000000"},"encoding":{"x":{"field":"t","type":"quantitative"},"y":{"field":"v","type":"quantitative"},"text":{"field":"s"}}}
   ]},
   {"width":348,"height":139,"layer":[
    {"data":{"name":"ic"},"transform":[{"filter":{"field":"s","equal":"IX"}}],"mark":{"type":"line","color":"#8a8a8a","strokeWidth":1.2,"strokeDash":[2,2]},"encoding":{"x":{"field":"t","type":"quantitative","scale":{"domain":[0.475,0.8],"nice":false},"axis":{"values":[0.5,0.6,0.7,0.8],"format":".1f","title":["Time (s)","(c)"]}},"y":{"field":"v","type":"quantitative","scale":{"domain":[0.505,1.41],"nice":false,"zero":false},"axis":{"values":[0.6,0.9,1.2],"format":".1f","title":"idc (A)"}}}},
    {"data":{"name":"ic"},"transform":[{"filter":{"field":"s","equal":"X"}}],"mark":{"type":"line","color":"#7a7a7a","strokeWidth":1.5},"encoding":{"x":{"field":"t","type":"quantitative"},"y":{"field":"v","type":"quantitative"}}},
    {"data":{"name":"ic"},"transform":[{"filter":{"field":"s","equal":"XI"}}],"mark":{"type":"line","color":"#111111","strokeWidth":1.6},"encoding":{"x":{"field":"t","type":"quantitative"},"y":{"field":"v","type":"quantitative"}}},
    {"data":{"values":[{"t1":0.5228,"v1":1.012,"t2":0.504,"v2":0.936},{"t1":0.5431,"v1":0.828,"t2":0.529,"v2":0.763},{"t1":0.5197,"v1":0.589,"t2":0.5025,"v2":0.644}]},"mark":{"type":"rule","color":"#666666","strokeWidth":1},"encoding":{"x":{"field":"t1","type":"quantitative"},"x2":{"field":"t2"},"y":{"field":"v1","type":"quantitative"},"y2":{"field":"v2"}}},
    {"data":{"values":[{"t":0.5272,"v":1.058,"s":"Case X"},{"t":0.5447,"v":0.839,"s":"Case XI"},{"t":0.5225,"v":0.574,"s":"Case IX"}]},"mark":{"type":"text","align":"left","baseline":"middle","fontSize":19,"fontStyle":"italic","color":"#111111"},"encoding":{"x":{"field":"t","type":"quantitative"},"y":{"field":"v","type":"quantitative"},"text":{"field":"s"}}}
   ]}
  ], "spacing": 19, "bounds": "flush"}
 ], "spacing": 52}
], "spacing": 39},
{"hconcat": [
 {"vconcat": [
  {"width":244,"height":60,"layer":[
   {"data":{"name":"w"},"mark":{"type":"line","color":"#a3a3a3","strokeWidth":1.6,"interpolate":"monotone"},"encoding":{"x":{"field":"t","type":"quantitative","scale":{"domain":[0.487,0.809],"nice":false},"axis":{"values":[0.6,0.7,0.8],"labels":false,"title":null}},"y":{"field":"d1","type":"quantitative","scale":{"domain":[-16,37],"nice":false,"zero":false},"axis":{"values":[-10,10,30],"title":"Δvdc(V)"}}}},
   {"data":{"name":"w"},"mark":{"type":"line","color":"#b4463e","strokeWidth":1.6,"interpolate":"monotone"},"encoding":{"x":{"field":"t","type":"quantitative"},"y":{"field":"f1","type":"quantitative"}}},
   {"data":{"values":[{"x0":0.487,"x1":0.582,"y0":37,"y1":52}]},"mark":{"type":"rect","color":"#e6e6e6"},"encoding":{"x":{"field":"x0","type":"quantitative"},"x2":{"field":"x1"},"y":{"field":"y0","type":"quantitative"},"y2":{"field":"y1"}}},
   {"data":{"values":[{"t":0.499,"v":39.7,"s":"Case I"}]},"mark":{"type":"text","align":"left","baseline":"alphabetic","fontSize":19,"fontWeight":"bold","fontStyle":"italic","color":"#000000"},"encoding":{"x":{"field":"t","type":"quantitative"},"y":{"field":"v","type":"quantitative"},"text":{"field":"s"}}},
   {"data":{"values":[{"t":0.793,"v":22.3,"s":"α = 13.17"}]},"mark":{"type":"text","align":"right","baseline":"middle","fontSize":21,"color":"#111111"},"encoding":{"x":{"field":"t","type":"quantitative"},"y":{"field":"v","type":"quantitative"},"text":{"field":"s"}}}
  ]},
  {"width":244,"height":59,"layer":[
   {"data":{"name":"w"},"mark":{"type":"line","color":"#a3a3a3","strokeWidth":1.6,"interpolate":"monotone"},"encoding":{"x":{"field":"t","type":"quantitative","scale":{"domain":[0.487,0.809],"nice":false},"axis":{"values":[0.6,0.7,0.8],"labels":false,"title":null}},"y":{"field":"d2","type":"quantitative","scale":{"domain":[-16,37],"nice":false,"zero":false},"axis":{"values":[-10,10,30],"title":"Δvdc(V)"}}}},
   {"data":{"name":"w"},"mark":{"type":"line","color":"#3d8fa5","strokeWidth":1.6,"interpolate":"monotone"},"encoding":{"x":{"field":"t","type":"quantitative"},"y":{"field":"f2","type":"quantitative"}}},
   {"data":{"values":[{"x0":0.487,"x1":0.584,"y0":37,"y1":52.3}]},"mark":{"type":"rect","color":"#e6e6e6"},"encoding":{"x":{"field":"x0","type":"quantitative"},"x2":{"field":"x1"},"y":{"field":"y0","type":"quantitative"},"y2":{"field":"y1"}}},
   {"data":{"values":[{"t":0.492,"v":39.7,"s":"Case II"}]},"mark":{"type":"text","align":"left","baseline":"alphabetic","fontSize":19,"fontWeight":"bold","fontStyle":"italic","color":"#000000"},"encoding":{"x":{"field":"t","type":"quantitative"},"y":{"field":"v","type":"quantitative"},"text":{"field":"s"}}},
   {"data":{"values":[{"t":0.793,"v":23,"s":"α = 14.24"}]},"mark":{"type":"text","align":"right","baseline":"middle","fontSize":21,"color":"#111111"},"encoding":{"x":{"field":"t","type":"quantitative"},"y":{"field":"v","type":"quantitative"},"text":{"field":"s"}}}
  ]},
  {"width":244,"height":60,"layer":[
   {"data":{"name":"w"},"mark":{"type":"line","color":"#a3a3a3","strokeWidth":1.6,"interpolate":"monotone"},"encoding":{"x":{"field":"t","type":"quantitative","scale":{"domain":[0.487,0.809],"nice":false},"axis":{"values":[0.6,0.7,0.8],"labelExpr":"datum.value == 0.7 ? '' : datum.label","format":".1f","title":["Time (s)","(d)"]}},"y":{"field":"d3","type":"quantitative","scale":{"domain":[-16,37],"nice":false,"zero":false},"axis":{"values":[-10,10,30],"title":"Δvdc(V)"}}}},
   {"data":{"name":"w"},"mark":{"type":"line","color":"#1a1a1a","strokeWidth":1.6,"interpolate":"monotone"},"encoding":{"x":{"field":"t","type":"quantitative"},"y":{"field":"f3","type":"quantitative"}}},
   {"data":{"values":[{"x0":0.487,"x1":0.583,"y0":37,"y1":52}]},"mark":{"type":"rect","color":"#e6e6e6"},"encoding":{"x":{"field":"x0","type":"quantitative"},"x2":{"field":"x1"},"y":{"field":"y0","type":"quantitative"},"y2":{"field":"y1"}}},
   {"data":{"values":[{"t":0.492,"v":39.7,"s":"Case III"}]},"mark":{"type":"text","align":"left","baseline":"alphabetic","fontSize":19,"fontWeight":"bold","fontStyle":"italic","color":"#000000"},"encoding":{"x":{"field":"t","type":"quantitative"},"y":{"field":"v","type":"quantitative"},"text":{"field":"s"}}},
   {"data":{"values":[{"t":0.793,"v":24.5,"s":"α = 12.11"}]},"mark":{"type":"text","align":"right","baseline":"middle","fontSize":21,"color":"#111111"},"encoding":{"x":{"field":"t","type":"quantitative"},"y":{"field":"v","type":"quantitative"},"text":{"field":"s"}}}
  ]}
 ], "spacing": 18, "bounds": "flush"},
 {"hconcat": [
  {"vconcat": [
   {"width":232,"height":60,"layer":[
    {"data":{"name":"w"},"transform":[{"filter":{"field":"t","gte":0.532}}],"mark":{"type":"line","color":"#a3a3a3","strokeWidth":1.6,"interpolate":"monotone"},"encoding":{"x":{"field":"t","type":"quantitative","scale":{"domain":[0.489,0.836],"nice":false},"axis":{"values":[0.6,0.7,0.8],"labels":false,"title":null}},"y":{"field":"d1","type":"quantitative","scale":{"domain":[-16,37],"nice":false,"zero":false},"axis":{"values":[-10,10,30],"title":"Δvdc(V)"}}}},
    {"data":{"name":"w"},"transform":[{"filter":{"field":"t","gte":0.532}}],"mark":{"type":"line","color":"#b4463e","strokeWidth":1.6,"interpolate":"monotone"},"encoding":{"x":{"field":"t","type":"quantitative"},"y":{"field":"f1","type":"quantitative"}}},
    {"data":{"values":[{"x0":0.489,"x1":0.601,"y0":37,"y1":52}]},"mark":{"type":"rect","color":"#e6e6e6"},"encoding":{"x":{"field":"x0","type":"quantitative"},"x2":{"field":"x1"},"y":{"field":"y0","type":"quantitative"},"y2":{"field":"y1"}}},
    {"data":{"values":[{"t":0.496,"v":39.7,"s":"Case IV"}]},"mark":{"type":"text","align":"left","baseline":"alphabetic","fontSize":19,"fontWeight":"bold","fontStyle":"italic","color":"#000000"},"encoding":{"x":{"field":"t","type":"quantitative"},"y":{"field":"v","type":"quantitative"},"text":{"field":"s"}}},
    {"data":{"values":[{"t":0.8125,"v":22,"s":"α = 13.15"}]},"mark":{"type":"text","align":"right","baseline":"middle","fontSize":21,"color":"#111111"},"encoding":{"x":{"field":"t","type":"quantitative"},"y":{"field":"v","type":"quantitative"},"text":{"field":"s"}}}
   ]},
   {"width":232,"height":59,"layer":[
    {"data":{"name":"w"},"transform":[{"filter":{"field":"t","gte":0.532}}],"mark":{"type":"line","color":"#a3a3a3","strokeWidth":1.6,"interpolate":"monotone"},"encoding":{"x":{"field":"t","type":"quantitative","scale":{"domain":[0.489,0.836],"nice":false},"axis":{"values":[0.6,0.7,0.8],"labels":false,"title":null}},"y":{"field":"d2","type":"quantitative","scale":{"domain":[-16,37],"nice":false,"zero":false},"axis":{"values":[-10,10,30],"title":"Δvdc(V)"}}}},
    {"data":{"name":"w"},"transform":[{"filter":{"field":"t","gte":0.532}}],"mark":{"type":"line","color":"#3d8fa5","strokeWidth":1.6,"interpolate":"monotone"},"encoding":{"x":{"field":"t","type":"quantitative"},"y":{"field":"f2","type":"quantitative"}}},
    {"data":{"values":[{"x0":0.489,"x1":0.596,"y0":37,"y1":52.3}]},"mark":{"type":"rect","color":"#e6e6e6"},"encoding":{"x":{"field":"x0","type":"quantitative"},"x2":{"field":"x1"},"y":{"field":"y0","type":"quantitative"},"y2":{"field":"y1"}}},
    {"data":{"values":[{"t":0.501,"v":39.7,"s":"Case V"}]},"mark":{"type":"text","align":"left","baseline":"alphabetic","fontSize":19,"fontWeight":"bold","fontStyle":"italic","color":"#000000"},"encoding":{"x":{"field":"t","type":"quantitative"},"y":{"field":"v","type":"quantitative"},"text":{"field":"s"}}},
    {"data":{"values":[{"t":0.8125,"v":19.5,"s":"α = 14.29"}]},"mark":{"type":"text","align":"right","baseline":"middle","fontSize":21,"color":"#111111"},"encoding":{"x":{"field":"t","type":"quantitative"},"y":{"field":"v","type":"quantitative"},"text":{"field":"s"}}}
   ]},
   {"width":232,"height":60,"layer":[
    {"data":{"name":"w"},"transform":[{"filter":{"field":"t","gte":0.532}}],"mark":{"type":"line","color":"#a3a3a3","strokeWidth":1.6,"interpolate":"monotone"},"encoding":{"x":{"field":"t","type":"quantitative","scale":{"domain":[0.489,0.836],"nice":false},"axis":{"values":[0.6,0.7,0.8],"labelExpr":"datum.value == 0.7 ? '' : datum.label","format":".1f","title":["Time (s)","(e)"]}},"y":{"field":"d3","type":"quantitative","scale":{"domain":[-16,37],"nice":false,"zero":false},"axis":{"values":[-10,10,30],"title":"Δvdc(V)"}}}},
    {"data":{"name":"w"},"transform":[{"filter":{"field":"t","gte":0.532}}],"mark":{"type":"line","color":"#1a1a1a","strokeWidth":1.6,"interpolate":"monotone"},"encoding":{"x":{"field":"t","type":"quantitative"},"y":{"field":"f3","type":"quantitative"}}},
    {"data":{"values":[{"x0":0.489,"x1":0.601,"y0":37,"y1":52}]},"mark":{"type":"rect","color":"#e6e6e6"},"encoding":{"x":{"field":"x0","type":"quantitative"},"x2":{"field":"x1"},"y":{"field":"y0","type":"quantitative"},"y2":{"field":"y1"}}},
    {"data":{"values":[{"t":0.4985,"v":39.7,"s":"Case VI"}]},"mark":{"type":"text","align":"left","baseline":"alphabetic","fontSize":19,"fontWeight":"bold","fontStyle":"italic","color":"#000000"},"encoding":{"x":{"field":"t","type":"quantitative"},"y":{"field":"v","type":"quantitative"},"text":{"field":"s"}}},
    {"data":{"values":[{"t":0.8125,"v":24.6,"s":"α = 12.09"}]},"mark":{"type":"text","align":"right","baseline":"middle","fontSize":21,"color":"#111111"},"encoding":{"x":{"field":"t","type":"quantitative"},"y":{"field":"v","type":"quantitative"},"text":{"field":"s"}}}
   ]}
  ], "spacing": 18, "bounds": "flush"},
  {"hconcat": [
   {"vconcat": [
    {"width":250,"height":100,"layer":[
     {"data":{"name":"w"},"mark":{"type":"line","color":"#a3a3a3","strokeWidth":1.6,"interpolate":"monotone"},"encoding":{"x":{"field":"t","type":"quantitative","scale":{"domain":[0.5,0.752],"nice":false},"axis":{"values":[0.5,0.6,0.7],"labels":false,"title":null}},"y":{"field":"d7","type":"quantitative","scale":{"domain":[-13.4,42],"nice":false,"zero":false},"axis":{"values":[0,20,40],"title":"Δvdc(V)"}}}},
     {"data":{"name":"w"},"mark":{"type":"line","color":"#7b9a38","strokeWidth":1.6,"interpolate":"monotone"},"encoding":{"x":{"field":"t","type":"quantitative"},"y":{"field":"f7","type":"quantitative"}}},
     {"data":{"values":[{"x0":0.5,"x1":0.5857,"y0":42,"y1":51.4}]},"mark":{"type":"rect","color":"#e6e6e6"},"encoding":{"x":{"field":"x0","type":"quantitative"},"x2":{"field":"x1"},"y":{"field":"y0","type":"quantitative"},"y2":{"field":"y1"}}},
     {"data":{"values":[{"t":0.5094,"v":43.7,"s":"Case VII"}]},"mark":{"type":"text","align":"left","baseline":"alphabetic","fontSize":19,"fontWeight":"bold","fontStyle":"italic","color":"#000000"},"encoding":{"x":{"field":"t","type":"quantitative"},"y":{"field":"v","type":"quantitative"},"text":{"field":"s"}}},
     {"data":{"values":[{"t":0.739,"v":32.6,"s":"α = 13.27"}]},"mark":{"type":"text","align":"right","baseline":"middle","fontSize":21,"color":"#111111"},"encoding":{"x":{"field":"t","type":"quantitative"},"y":{"field":"v","type":"quantitative"},"text":{"field":"s"}}}
    ]},
    {"width":250,"height":100,"layer":[
     {"data":{"name":"w"},"mark":{"type":"line","color":"#a9a6c6","strokeWidth":1.6,"interpolate":"monotone"},"encoding":{"x":{"field":"t","type":"quantitative","scale":{"domain":[0.5,0.752],"nice":false},"axis":{"values":[0.5,0.6,0.7],"format":".1f","title":["Time (s)","(f)"]}},"y":{"field":"d8","type":"quantitative","scale":{"domain":[-14,40],"nice":false,"zero":false},"axis":{"values":[0,20,40],"title":"Δvdc(V)"}}}},
     {"data":{"name":"w"},"mark":{"type":"line","color":"#5f5f95","strokeWidth":1.6,"interpolate":"monotone"},"encoding":{"x":{"field":"t","type":"quantitative"},"y":{"field":"f8","type":"quantitative"}}},
     {"data":{"values":[{"x0":0.5,"x1":0.6045,"y0":40,"y1":49.2}]},"mark":{"type":"rect","color":"#e6e6e6"},"encoding":{"x":{"field":"x0","type":"quantitative"},"x2":{"field":"x1"},"y":{"field":"y0","type":"quantitative"},"y2":{"field":"y1"}}},
     {"data":{"values":[{"t":0.5148,"v":41.6,"s":"Case VIII"}]},"mark":{"type":"text","align":"left","baseline":"alphabetic","fontSize":19,"fontWeight":"bold","fontStyle":"italic","color":"#000000"},"encoding":{"x":{"field":"t","type":"quantitative"},"y":{"field":"v","type":"quantitative"},"text":{"field":"s"}}},
     {"data":{"values":[{"t":0.739,"v":32.6,"s":"α = 13.14"}]},"mark":{"type":"text","align":"right","baseline":"middle","fontSize":21,"color":"#111111"},"encoding":{"x":{"field":"t","type":"quantitative"},"y":{"field":"v","type":"quantitative"},"text":{"field":"s"}}}
    ]}
   ], "spacing": 15, "bounds": "flush"},
   {"vconcat": [
    {"width":250,"height":60,"layer":[
     {"data":{"name":"w"},"mark":{"type":"line","color":"#a3a3a3","strokeWidth":1.6,"interpolate":"monotone"},"encoding":{"x":{"field":"t","type":"quantitative","scale":{"domain":[0.498,0.846],"nice":false},"axis":{"values":[0.6,0.7,0.8],"labels":false,"title":null}},"y":{"field":"d9","type":"quantitative","scale":{"domain":[-15,41.4],"nice":false,"zero":false},"axis":{"values":[0,20,40],"title":"Δvdc(V)"}}}},
     {"data":{"name":"w"},"mark":{"type":"line","color":"#a7a02c","strokeWidth":1.6,"interpolate":"monotone"},"encoding":{"x":{"field":"t","type":"quantitative"},"y":{"field":"f9","type":"quantitative"}}},
     {"data":{"values":[{"x0":0.5049,"x1":0.6117,"y0":41.4,"y1":57.4}]},"mark":{"type":"rect","color":"#e6e6e6"},"encoding":{"x":{"field":"x0","type":"quantitative"},"x2":{"field":"x1"},"y":{"field":"y0","type":"quantitative"},"y2":{"field":"y1"}}},
     {"data":{"values":[{"t":0.5105,"v":44.2,"s":"Case IX"}]},"mark":{"type":"text","align":"left","baseline":"alphabetic","fontSize":19,"fontWeight":"bold","fontStyle":"italic","color":"#000000"},"encoding":{"x":{"field":"t","type":"quantitative"},"y":{"field":"v","type":"quantitative"},"text":{"field":"s"}}},
     {"data":{"values":[{"t":0.8297,"v":25.7,"s":"α = 13.28"}]},"mark":{"type":"text","align":"right","baseline":"middle","fontSize":21,"color":"#111111"},"encoding":{"x":{"field":"t","type":"quantitative"},"y":{"field":"v","type":"quantitative"},"text":{"field":"s"}}}
    ]},
    {"width":250,"height":59,"layer":[
     {"data":{"name":"w"},"mark":{"type":"line","color":"#a3a3a3","strokeWidth":1.6,"interpolate":"monotone"},"encoding":{"x":{"field":"t","type":"quantitative","scale":{"domain":[0.498,0.846],"nice":false},"axis":{"values":[0.6,0.7,0.8],"labels":false,"title":null}},"y":{"field":"d10","type":"quantitative","scale":{"domain":[-14.5,40],"nice":false,"zero":false},"axis":{"values":[0,20,40],"title":"Δvdc(V)"}}}},
     {"data":{"name":"w"},"mark":{"type":"line","color":"#d2691e","strokeWidth":1.6,"interpolate":"monotone"},"encoding":{"x":{"field":"t","type":"quantitative"},"y":{"field":"f10","type":"quantitative"}}},
     {"data":{"values":[{"x0":0.5117,"x1":0.6117,"y0":40,"y1":55.7}]},"mark":{"type":"rect","color":"#e6e6e6"},"encoding":{"x":{"field":"x0","type":"quantitative"},"x2":{"field":"x1"},"y":{"field":"y0","type":"quantitative"},"y2":{"field":"y1"}}},
     {"data":{"values":[{"t":0.5147,"v":42.8,"s":"Case X"}]},"mark":{"type":"text","align":"left","baseline":"alphabetic","fontSize":19,"fontWeight":"bold","fontStyle":"italic","color":"#000000"},"encoding":{"x":{"field":"t","type":"quantitative"},"y":{"field":"v","type":"quantitative"},"text":{"field":"s"}}},
     {"data":{"values":[{"t":0.8297,"v":24,"s":"α = 13.05"}]},"mark":{"type":"text","align":"right","baseline":"middle","fontSize":21,"color":"#111111"},"encoding":{"x":{"field":"t","type":"quantitative"},"y":{"field":"v","type":"quantitative"},"text":{"field":"s"}}}
    ]},
    {"width":250,"height":60,"layer":[
     {"data":{"name":"w"},"mark":{"type":"line","color":"#a3a3a3","strokeWidth":1.6,"interpolate":"monotone"},"encoding":{"x":{"field":"t","type":"quantitative","scale":{"domain":[0.498,0.846],"nice":false},"axis":{"values":[0.6,0.7,0.8],"format":".1f","title":["Time (s)","(g)"]}},"y":{"field":"d11","type":"quantitative","scale":{"domain":[-15,40],"nice":false,"zero":false},"axis":{"values":[0,20,40],"title":"Δvdc(V)"}}}},
     {"data":{"name":"w"},"mark":{"type":"line","color":"#2f8799","strokeWidth":1.6,"interpolate":"monotone"},"encoding":{"x":{"field":"t","type":"quantitative"},"y":{"field":"f11","type":"quantitative"}}},
     {"data":{"values":[{"x0":0.5077,"x1":0.6117,"y0":40,"y1":55.6}]},"mark":{"type":"rect","color":"#e6e6e6"},"encoding":{"x":{"field":"x0","type":"quantitative"},"x2":{"field":"x1"},"y":{"field":"y0","type":"quantitative"},"y2":{"field":"y1"}}},
     {"data":{"values":[{"t":0.512,"v":42.7,"s":"Case XI"}]},"mark":{"type":"text","align":"left","baseline":"alphabetic","fontSize":19,"fontWeight":"bold","fontStyle":"italic","color":"#000000"},"encoding":{"x":{"field":"t","type":"quantitative"},"y":{"field":"v","type":"quantitative"},"text":{"field":"s"}}},
     {"data":{"values":[{"t":0.8297,"v":27.2,"s":"α = 13.08"}]},"mark":{"type":"text","align":"right","baseline":"middle","fontSize":21,"color":"#111111"},"encoding":{"x":{"field":"t","type":"quantitative"},"y":{"field":"v","type":"quantitative"},"text":{"field":"s"}}}
    ]}
   ], "spacing": 18, "bounds": "flush"}
  ], "spacing": 45}
 ], "spacing": 53}
], "spacing": 44.5}
], "spacing": 4
}
